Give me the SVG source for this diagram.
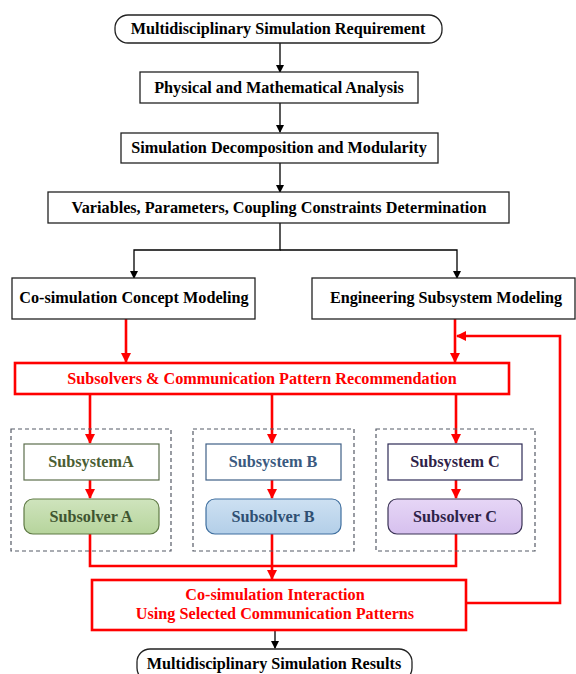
<svg xmlns="http://www.w3.org/2000/svg" width="576" height="674" viewBox="0 0 576 674">
<defs>
<marker id="ab" markerWidth="8" markerHeight="8" refX="7" refY="4" orient="auto" markerUnits="userSpaceOnUse"><path d="M0,0 L8,4 L0,8 Z" fill="#000"/></marker>
<marker id="ar" markerWidth="10" markerHeight="10" refX="9" refY="5" orient="auto" markerUnits="userSpaceOnUse"><path d="M0,0 L10,5 L0,10 Z" fill="#ff0000"/></marker>
<linearGradient id="gA" x1="0" y1="0" x2="0" y2="1"><stop offset="0" stop-color="#cfe4bd"/><stop offset="1" stop-color="#b6d49c"/></linearGradient>
<linearGradient id="gB" x1="0" y1="0" x2="0" y2="1"><stop offset="0" stop-color="#cde0f2"/><stop offset="1" stop-color="#b3cfe8"/></linearGradient>
<linearGradient id="gC" x1="0" y1="0" x2="0" y2="1"><stop offset="0" stop-color="#e6d6f6"/><stop offset="1" stop-color="#d6c0ee"/></linearGradient>
</defs>
<style>
text{font-family:"Liberation Serif","Times New Roman",serif;font-weight:bold;font-size:16.2px;text-anchor:middle;dominant-baseline:central}
.b{fill:#fff;stroke:#222;stroke-width:1.3}
.r{fill:#fff;stroke:#ff0000;stroke-width:2.6}
.rt{fill:#ff0000}
.dash{fill:none;stroke:#555a66;stroke-width:1.2;stroke-dasharray:4 3}
.cb{fill:none;stroke:#000;stroke-width:1.3}
.cr{fill:none;stroke:#ff0000;stroke-width:2.6}
</style>
<g id="connectors">
<line class="cb" x1="280" y1="43" x2="280" y2="72" marker-end="url(#ab)"/>
<line class="cb" x1="280" y1="103" x2="280" y2="132" marker-end="url(#ab)"/>
<line class="cb" x1="280" y1="163" x2="280" y2="192" marker-end="url(#ab)"/>
<polyline class="cb" points="280,223 280,250 134,250 134,278" marker-end="url(#ab)"/>
<polyline class="cb" points="280,250 457,250 457,278" marker-end="url(#ab)"/>
<line class="cr" x1="126" y1="319" x2="126" y2="362" marker-end="url(#ar)"/>
<line class="cr" x1="455" y1="319" x2="455" y2="362" marker-end="url(#ar)"/>
<polyline class="cr" points="466,603 560,603 560,336 457,336" marker-end="url(#ar)"/>
<line class="cr" x1="90" y1="394" x2="90" y2="443" marker-end="url(#ar)"/>
<line class="cr" x1="272" y1="394" x2="272" y2="443" marker-end="url(#ar)"/>
<line class="cr" x1="456" y1="394" x2="456" y2="443" marker-end="url(#ar)"/>
<line class="cr" x1="90" y1="480" x2="90" y2="498" marker-end="url(#ar)"/>
<line class="cr" x1="272" y1="480" x2="272" y2="498" marker-end="url(#ar)"/>
<line class="cr" x1="456" y1="480" x2="456" y2="498" marker-end="url(#ar)"/>
<polyline class="cr" points="90,534 90,566 456,566 456,534"/>
<line class="cr" x1="272" y1="534" x2="272" y2="579" marker-end="url(#ar)"/>
<line class="cb" x1="275" y1="630" x2="275" y2="648" marker-end="url(#ab)"/>
</g>
<g id="n1"><rect class="b" x="115" y="15" width="327" height="28" rx="13"/><text x="278" y="29">Multidisciplinary Simulation Requirement</text></g>
<g id="n2"><rect class="b" x="140" y="72" width="278" height="31"/><text x="279" y="87.5">Physical and Mathematical Analysis</text></g>
<g id="n3"><rect class="b" x="121" y="133" width="317" height="30"/><text x="279" y="148">Simulation Decomposition and Modularity</text></g>
<g id="n4"><rect class="b" x="48" y="192" width="461" height="31"/><text x="279" y="207.5">Variables, Parameters, Coupling Constraints Determination</text></g>
<g id="n5"><rect class="b" x="12" y="278" width="243" height="41"/><text x="134" y="298">Co-simulation Concept Modeling</text></g>
<g id="n6"><rect class="b" x="312" y="278" width="263" height="41"/><text x="446" y="298">Engineering Subsystem Modeling</text></g>
<g id="n7"><rect class="r" x="15" y="363" width="494" height="31"/><text class="rt" x="262" y="379">Subsolvers &amp; Communication Pattern Recommendation</text></g>
<g id="gA"><rect class="dash" x="11" y="429" width="160" height="122"/></g>
<g id="gB"><rect class="dash" x="193" y="429" width="161" height="122"/></g>
<g id="gC"><rect class="dash" x="376" y="429" width="159" height="122"/></g>
<g id="sA"><rect x="24" y="444" width="135" height="36" fill="#fff" stroke="#5c6e4c" stroke-width="1.2"/><text x="91" y="462" fill="#4a5e34">SubsystemA</text></g>
<g id="sB"><rect x="206" y="444" width="135" height="36" fill="#fff" stroke="#3f5f86" stroke-width="1.2"/><text x="273" y="462" fill="#3a5a80">Subsystem B</text></g>
<g id="sC"><rect x="388" y="444" width="134" height="36" fill="#fff" stroke="#2e2a55" stroke-width="1.2"/><text x="455" y="462" fill="#2e2248">Subsystem C</text></g>
<g id="vA"><rect x="24" y="499" width="135" height="35" rx="9" fill="url(#gA)" stroke="#5f7a45" stroke-width="1.2"/><text x="91" y="516.5" fill="#3f5530">Subsolver A</text></g>
<g id="vB"><rect x="206" y="499" width="135" height="35" rx="9" fill="url(#gB)" stroke="#3f6f9f" stroke-width="1.2"/><text x="273" y="516.5" fill="#2f4f72">Subsolver B</text></g>
<g id="vC"><rect x="388" y="499" width="134" height="35" rx="9" fill="url(#gC)" stroke="#3a3355" stroke-width="1.2"/><text x="455" y="516.5" fill="#2e2248">Subsolver C</text></g>
<g id="n8"><rect class="r" x="92" y="580" width="374" height="50"/><text class="rt" x="275" y="595">Co-simulation Interaction</text><text class="rt" x="275" y="614">Using Selected Communication Patterns</text></g>
<g id="n9"><rect class="b" x="137" y="649" width="275" height="32" rx="13"/><text x="274" y="664">Multidisciplinary Simulation Results</text></g>
</svg>
